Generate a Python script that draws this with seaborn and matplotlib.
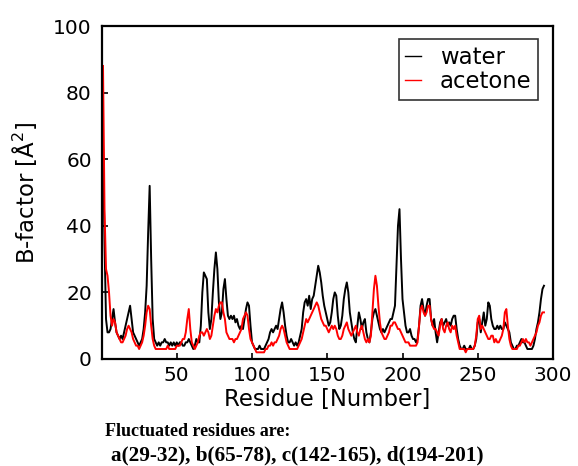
import matplotlib
matplotlib.use("Agg")
import matplotlib.pyplot as plt
import seaborn as sns
import pandas as pd

water = [
    65, 35, 12, 8, 8, 9, 12, 15, 11, 8,
    7, 6, 7, 6, 8, 10, 12, 14, 16, 12,
    8, 7, 6, 5, 4, 5, 6, 9, 14, 22,
    38, 52, 30, 12, 6, 5, 4, 5, 4, 5,
    5, 6, 5, 5, 4, 5, 4, 5, 4, 5,
    4, 5, 5, 4, 4, 5, 5, 6, 5, 4,
    3, 4, 6, 5, 5, 10, 20, 26, 25, 24,
    14, 9, 12, 20, 27, 32, 27, 17, 12, 14,
    21, 24, 18, 13, 12, 13, 12, 13, 11, 12,
    10, 9, 10, 9, 12, 15, 17, 16, 10, 5,
    4, 3, 3, 3, 4, 3, 3, 3, 4, 5,
    6, 8, 9, 8, 9, 10, 9, 12, 15, 17,
    14, 10, 7, 5, 5, 6, 5, 4, 5, 4,
    5, 7, 9, 14, 17, 18, 16, 19, 15, 18,
    19, 22, 25, 28, 26, 23, 19, 16, 14, 12,
    10, 11, 14, 18, 20, 19, 13, 9, 10, 13,
    18, 21, 23, 20, 14, 11, 8, 6, 5, 10,
    14, 12, 9, 11, 12, 8, 6, 5, 8, 12,
    14, 15, 13, 11, 9, 8, 9, 8, 9, 10,
    11, 12, 12, 14, 16, 28, 40, 45, 30, 18,
    14, 10, 8, 8, 9, 7, 6, 6, 5, 6,
    10, 16, 18, 15, 13, 16, 18, 18, 12, 10,
    12, 8, 5, 8, 11, 12, 10, 11, 12, 10,
    11, 10, 12, 13, 13, 9, 6, 4, 3, 3,
    4, 3, 3, 3, 4, 3, 3, 4, 6, 11,
    12, 8, 11, 14, 10, 12, 17, 16, 12, 10,
    9, 9, 10, 9, 10, 9, 9, 11, 10, 9,
    8, 5, 4, 3, 3, 4, 4, 5, 6, 5,
    5, 4, 3, 3, 3, 3, 4, 6, 9, 11,
    14, 18, 21, 22,
]

acetone = [
    88, 45, 27, 25, 20, 13, 10, 12, 11, 8,
    7, 6, 5, 5, 6, 7, 9, 10, 9, 8,
    6, 5, 4, 4, 3, 4, 5, 7, 10, 14,
    16, 15, 10, 6, 4, 3, 3, 3, 3, 3,
    3, 3, 3, 4, 3, 3, 3, 3, 3, 4,
    4, 4, 5, 6, 6, 8, 12, 15, 9, 5,
    4, 3, 4, 5, 7, 8, 8, 7, 8, 9,
    8, 6, 7, 10, 13, 15, 14, 16, 17, 17,
    14, 12, 8, 7, 6, 6, 6, 5, 6, 6,
    7, 8, 9, 12, 13, 14, 13, 9, 6, 5,
    4, 3, 2, 2, 2, 2, 2, 2, 3, 3,
    4, 4, 5, 4, 5, 5, 6, 7, 9, 10,
    9, 7, 5, 4, 3, 3, 3, 3, 3, 3,
    4, 5, 6, 8, 10, 12, 11, 12, 13, 14,
    15, 16, 17, 16, 14, 12, 11, 10, 10, 9,
    8, 9, 10, 9, 10, 9, 7, 6, 6, 7,
    9, 10, 11, 9, 8, 7, 8, 9, 10, 8,
    7, 9, 10, 8, 6, 5, 6, 5, 7, 14,
    21, 25, 22, 16, 11, 8, 7, 6, 6, 7,
    8, 10, 10, 11, 11, 10, 9, 9, 8, 7,
    6, 5, 5, 5, 4, 4, 4, 4, 4, 5,
    10, 15, 16, 14, 13, 14, 16, 16, 12, 10,
    9, 9, 8, 7, 10, 12, 9, 8, 10, 11,
    9, 8, 10, 9, 10, 7, 5, 3, 3, 3,
    3, 2, 3, 3, 3, 3, 3, 4, 7, 12,
    13, 9, 10, 9, 8, 7, 6, 6, 7, 7,
    5, 6, 5, 5, 6, 7, 9, 14, 15, 10,
    6, 4, 3, 3, 3, 3, 4, 4, 5, 6,
    5, 6, 5, 5, 4, 5, 6, 7, 8, 10,
    11, 13, 14, 14,
]

series_names = ["water", "acetone"]
series_colors = ["black", "red"]
x_ticks = [50, 100, 150, 200, 250, 300]
y_ticks = [0, 20, 40, 60, 80, 100]

df = pd.concat([
    pd.DataFrame({"Residue": list(range(1, len(water) + 1)), "B": water, "Solvent": "water"}),
    pd.DataFrame({"Residue": list(range(1, len(acetone) + 1)), "B": acetone, "Solvent": "acetone"}),
])

plt.rcParams["font.family"] = ["DejaVu Sans"]

fig = plt.figure(figsize=(5.78, 4.66), dpi=100)
W, H = 578, 466
ax = fig.add_axes([101.5 / W, 1 - 359 / H, (553 - 101.5) / W, (359 - 26) / H])

sns.lineplot(data=df, x="Residue", y="B", hue="Solvent",
             palette=dict(zip(series_names, series_colors)),
             hue_order=series_names, linewidth=1.4, ax=ax, legend=True)

ax.set_xlim(0, 300)
ax.set_ylim(0, 100)
ax.set_xticks(x_ticks)
ax.set_yticks(y_ticks)
ax.tick_params(direction="in", length=4, width=1.2, labelsize=14.5, colors="black")
ax.tick_params(axis="y", pad=7)
ax.tick_params(axis="x", pad=5)
for s in ax.spines.values():
    s.set_linewidth(1.6)
    s.set_color("black")
ax.set_xlabel("Residue [Number]", fontsize=16.4, labelpad=2)
ax.set_ylabel("B-factor [$\\mathrm{\\AA}^2$]", fontsize=16.4, labelpad=10)

leg = ax.legend(loc="upper right", bbox_to_anchor=(0.967, 0.961), borderaxespad=0,
                frameon=True, fancybox=False, edgecolor="black", fontsize=16.4,
                handlelength=0.7, handletextpad=0.8, borderpad=0.3,
                labelspacing=0.05)
leg.get_frame().set_linewidth(1.2)
for line in leg.get_lines():
    line.set_linewidth(1.0)

fig.text(105 / W, 1 - 431 / H, "Fluctuated residues are:", family="Liberation Serif",
         weight="bold", fontsize=13, va="center", ha="left")
fig.text(111 / W, 1 - 455 / H, "a(29-32), b(65-78), c(142-165), d(194-201)",
         family="Liberation Serif", weight="bold", fontsize=15.3, va="center", ha="left")

fig.savefig("out.png", dpi=100)
